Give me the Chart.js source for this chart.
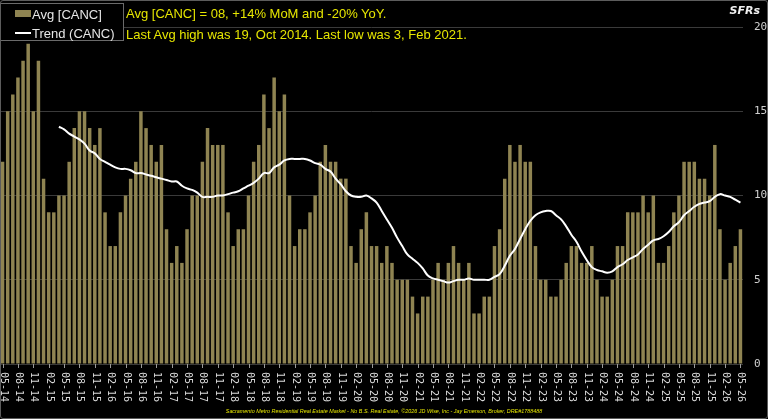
<!DOCTYPE html>
<html>
<head>
<meta charset="utf-8">
<script src="https://cdn.jsdelivr.net/npm/chart.js@4.4.1/dist/chart.umd.min.js"></script>
<style>
  html, body { margin: 0; padding: 0; background: #000; }
  #wrap { position: relative; width: 768px; height: 419px; overflow: hidden; background: #000; }
  #chart { position: absolute; left: 0; top: 0; }
  .frame { position: absolute; left: 0; top: 0; width: 768px; height: 419px; box-sizing: border-box;
           border: 1px solid #5c5c5c; border-radius: 3px; pointer-events: none; }
  .legend { position: absolute; left: 0; top: 3px; width: 124px; height: 38px; box-sizing: border-box;
            border: 1px solid #6a6a6a; background: #000; font: 13px "Liberation Sans", Arial, sans-serif; color: #e6e6e6; }
  .legend .row { position: absolute; left: 14px; height: 16px; line-height: 16px; white-space: nowrap; }
  .legend .sw { display: inline-block; width: 16px; height: 7px; background: #8f8452; vertical-align: 2px; margin-right: 1px; }
  .legend .ln { display: inline-block; width: 16px; height: 2px; background: #fff; vertical-align: 4px; margin-right: 1px; }
  .note { position: absolute; left: 126px; font: 13px "Liberation Sans", Arial, sans-serif; color: #e6e600; white-space: nowrap; }
  .units { position: absolute; right: 8px; top: 4px; font: bold italic 11px "DejaVu Sans", sans-serif; color: #f0f0f0; }
  .footer { position: absolute; left: 0; width: 768px; top: 408px; text-align: center;
            font: italic 5.4px "Liberation Sans", Arial, sans-serif; color: #e6e600; white-space: nowrap; }
</style>
</head>
<body>
<div id="wrap">
  <canvas id="chart" width="768" height="419"></canvas>
  <div class="legend">
    <div class="row" style="top:3px"><span class="sw"></span>Avg [CANC]</div>
    <div class="row" style="top:22px"><span class="ln"></span>Trend (CANC)</div>
  </div>
  <div class="note" style="top:6px">Avg [CANC] = 08, +14% MoM and -20% YoY.</div>
  <div class="note" style="top:27px">Last Avg high was 19, Oct 2014. Last low was 3, Feb 2021.</div>
  <div class="units">SFRs</div>
  <div class="footer">Sacramento Metro Residential Real Estate Market - No B.S. Real Estate, ©2026 JD Wise, Inc - Jay Emerson, Broker, DRE#1788488</div>
  <div class="frame"></div>
</div>
<script>
// months, May 2014 .. May 2026
const months = [
  '05-14','06-14','07-14','08-14','09-14','10-14','11-14','12-14',
  '01-15','02-15','03-15','04-15','05-15','06-15','07-15','08-15','09-15','10-15','11-15','12-15',
  '01-16','02-16','03-16','04-16','05-16','06-16','07-16','08-16','09-16','10-16','11-16','12-16',
  '01-17','02-17','03-17','04-17','05-17','06-17','07-17','08-17','09-17','10-17','11-17','12-17',
  '01-18','02-18','03-18','04-18','05-18','06-18','07-18','08-18','09-18','10-18','11-18','12-18',
  '01-19','02-19','03-19','04-19','05-19','06-19','07-19','08-19','09-19','10-19','11-19','12-19',
  '01-20','02-20','03-20','04-20','05-20','06-20','07-20','08-20','09-20','10-20','11-20','12-20',
  '01-21','02-21','03-21','04-21','05-21','06-21','07-21','08-21','09-21','10-21','11-21','12-21',
  '01-22','02-22','03-22','04-22','05-22','06-22','07-22','08-22','09-22','10-22','11-22','12-22',
  '01-23','02-23','03-23','04-23','05-23','06-23','07-23','08-23','09-23','10-23','11-23','12-23',
  '01-24','02-24','03-24','04-24','05-24','06-24','07-24','08-24','09-24','10-24','11-24','12-24',
  '01-25','02-25','03-25','04-25','05-25','06-25','07-25','08-25','09-25','10-25','11-25','12-25',
  '01-26','02-26','03-26','04-26','05-26'
];

// monthly avg cancellations
const avgCanc = [
  12, 15, 16, 17, 18, 19, 15, 18,
  11, 9, 9, 10, 10, 12, 14, 15, 15, 14, 13, 14,
  9, 7, 7, 9, 10, 11, 12, 15, 14, 13, 12, 13,
  8, 6, 7, 6, 8, 10, 10, 12, 14, 13, 13, 13,
  9, 7, 8, 8, 10, 12, 13, 16, 14, 17, 15, 16,
  10, 7, 8, 8, 9, 10, 12, 13, 12, 12, 11, 11,
  7, 6, 8, 9, 7, 7, 6, 7, 6, 5, 5, 5,
  4, 3, 4, 4, 5, 6, 5, 6, 7, 6, 5, 6,
  3, 3, 4, 4, 7, 8, 11, 13, 12, 13, 12, 12,
  7, 5, 5, 4, 4, 5, 6, 7, 7, 6, 6, 7,
  5, 4, 4, 5, 7, 7, 9, 9, 9, 10, 9, 10,
  6, 6, 7, 9, 10, 12, 12, 12, 11, 11, 10, 13,
  8, 5, 6, 7, 8
];

// trend line
const trendCanc = [
  null, null, null, null, null, null, null, null,
  null, null, null, 14.08, 13.92, 13.67, 13.5, 13.33, 13.08, 12.67, 12.5, 12.17,
  12.0, 11.83, 11.67, 11.58, 11.58, 11.5, 11.33, 11.33, 11.25, 11.17, 11.08, 11.0,
  10.92, 10.83, 10.83, 10.58, 10.42, 10.33, 10.17, 9.92, 9.92, 9.92, 10.0, 10.0,
  10.08, 10.17, 10.25, 10.42, 10.58, 10.75, 11.0, 11.33, 11.33, 11.67, 11.83, 12.08,
  12.17, 12.17, 12.17, 12.17, 12.08, 11.92, 11.83, 11.58, 11.42, 11.0, 10.67, 10.25,
  10.0, 9.92, 9.92, 10.0, 9.83, 9.58, 9.08, 8.58, 8.08, 7.5, 7.0, 6.5,
  6.25, 6.0, 5.67, 5.25, 5.08, 5.0, 4.92, 4.83, 4.92, 5.0, 5.0, 5.08,
  5.0, 5.0, 5.0, 5.0, 5.17, 5.33, 5.83, 6.42, 6.83, 7.42, 8.0, 8.5,
  8.83, 9.0, 9.08, 9.08, 8.83, 8.58, 8.17, 7.67, 7.25, 6.67, 6.17, 5.75,
  5.58, 5.5, 5.42, 5.5, 5.75, 5.92, 6.17, 6.33, 6.5, 6.83, 7.08, 7.33,
  7.42, 7.58, 7.83, 8.17, 8.42, 8.83, 9.08, 9.33, 9.5, 9.58, 9.67, 9.92,
  10.08, 10.0, 9.92, 9.75, 9.58
];

const yTicks = [0, 5, 10, 15, 20];

// x labels go top-to-bottom every 3rd month, drawn by hand
const xLabels = {
  id: 'xLabels',
  afterDraw(chart) {
    const { ctx, chartArea } = chart;
    const x = chart.scales.x;
    ctx.save();
    ctx.font = '10px "DejaVu Sans Mono", monospace';
    ctx.fillStyle = '#dadada';
    ctx.strokeStyle = '#9a9a9a';
    ctx.lineWidth = 1;
    ctx.textAlign = 'left';
    ctx.textBaseline = 'middle';
    months.forEach((m, i) => {
      if (i % 3) return;
      const px = Math.round(x.getPixelForValue(i)) + 0.5;
      ctx.beginPath();
      ctx.moveTo(px, chartArea.bottom);
      ctx.lineTo(px, chartArea.bottom + 4);
      ctx.stroke();
      ctx.save();
      ctx.translate(px, chartArea.bottom + 8);
      ctx.rotate(Math.PI / 2);
      ctx.fillText(m, 0, 0);
      ctx.restore();
    });
    ctx.restore();
  }
};

new Chart(document.getElementById('chart'), {
  type: 'bar',
  data: {
    labels: months,
    datasets: [
      {
        type: 'line',
        label: 'Trend (CANC)',
        data: trendCanc,
        borderColor: '#ffffff',
        borderWidth: 2,
        pointRadius: 0,
        tension: 0.4,
        spanGaps: false,
        order: 0
      },
      {
        label: 'Avg [CANC]',
        data: avgCanc,
        backgroundColor: '#8f8452',
        borderWidth: 0,
        barPercentage: 0.68,
        categoryPercentage: 1,
        order: 1
      }
    ]
  },
  options: {
    responsive: false,
    animation: false,
    layout: { padding: { top: 27, left: 0, right: 0, bottom: 0 } },
    plugins: { legend: { display: false }, tooltip: { enabled: false } },
    scales: {
      x: {
        grid: { display: false },
        border: { display: false },
        ticks: { display: false },
        afterFit: s => { s.height = 55; }
      },
      y: {
        position: 'right',
        min: 0,
        max: 20,
        afterBuildTicks: s => { s.ticks = yTicks.map(v => ({ value: v })); },
        ticks: {
          color: '#d0d0d0',
          padding: 11,
          font: { family: '"DejaVu Sans Mono", monospace', size: 11 }
        },
        grid: { color: '#3a3a3a', drawTicks: false },
        border: { display: false },
        afterFit: s => { s.width = 25; }
      }
    }
  },
  plugins: [xLabels]
});
</script>
</body>
</html>
